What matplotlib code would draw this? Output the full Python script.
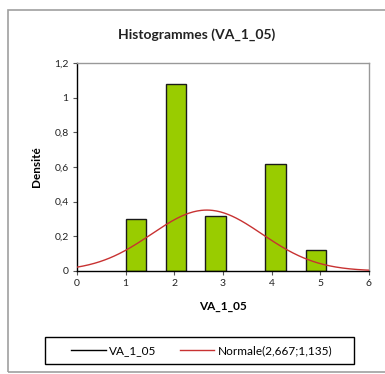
import numpy as np
import matplotlib
matplotlib.use("Agg")
import matplotlib.pyplot as plt
from matplotlib.lines import Line2D
from matplotlib.patches import Rectangle

plt.rcParams['font.family'] = ['Lato', 'DejaVu Sans']

# Data
bar_left = [1.0, 1.82, 2.64, 3.87, 4.70]
bar_width = 0.42
densities = [0.30, 1.077, 0.316, 0.618, 0.123]
mu, sigma = 2.667, 1.135
xticks = [0, 1, 2, 3, 4, 5, 6]
yticks = [0, 0.2, 0.4, 0.6, 0.8, 1.0, 1.2]
ytick_labels = ['0', '0,2', '0,4', '0,6', '0,8', '1', '1,2']
title = 'Histogrammes (VA_1_05)'
xlabel = 'VA_1_05'
ylabel = 'Densité'
legend_labels = ['VA_1_05', 'Normale(2,667;1,135)']

W, H = 385, 374
fig = plt.figure(figsize=(W / 100, H / 100), dpi=100)

# outer chart border
fig.patches.append(Rectangle((8 / W, 1 - 372 / H), 400 / W, 362 / H,
                             transform=fig.transFigure, fill=False,
                             edgecolor='#a0a0a0', linewidth=1.2))
# legend box
fig.patches.append(Rectangle((45 / W, 1 - 364 / H), 309 / W, 27 / H,
                             transform=fig.transFigure, fill=False,
                             edgecolor='#000000', linewidth=1.0))

ax = fig.add_axes([77 / W, 1 - 271 / H, 292 / W, 208 / H])
ax.bar(bar_left, densities, width=bar_width, align='edge', color='#99CC00',
       edgecolor='#1a1a1a', linewidth=1.0, zorder=2)
xs = np.linspace(0, 6, 300)
ys = np.exp(-0.5 * ((xs - mu) / sigma) ** 2) / (sigma * np.sqrt(2 * np.pi))
ax.plot(xs, ys, color='#C83232', linewidth=1.0, zorder=3)

ax.set_xlim(0, 6)
ax.set_ylim(0, 1.2)
ax.set_xticks(xticks)
ax.set_xticklabels([str(t) for t in xticks])
ax.set_yticks(yticks)
ax.set_yticklabels(ytick_labels)
ax.tick_params(axis='both', labelsize=7.5, length=3, width=0.8, color='#555555',
               labelcolor='#222222', pad=3)
for s in ['top', 'right']:
    ax.spines[s].set_color('#999999')
    ax.spines[s].set_linewidth(1.0)
for s in ['left', 'bottom']:
    ax.spines[s].set_color('#000000')
    ax.spines[s].set_linewidth(1.0)

ax.set_xlabel(xlabel, fontsize=8.5, fontweight='bold', labelpad=9)
ax.set_ylabel(ylabel, fontsize=8.5, fontweight='bold', labelpad=9)
fig.text(197 / W, 1 - 35 / H, title, ha='center', va='center',
         fontsize=10, fontweight='bold', color='#222222')

handles = [Line2D([], [], color='black', linewidth=1.0),
           Line2D([], [], color='#C83232', linewidth=1.0)]
leg = fig.legend(handles, legend_labels, loc='center left',
                 bbox_to_anchor=(62 / W, 1 - 350.5 / H), ncol=2,
                 fontsize=8.5, frameon=False, handlelength=2.9,
                 columnspacing=2.0, handletextpad=0.3, borderpad=0.3)

fig.savefig('out.png', dpi=100)
